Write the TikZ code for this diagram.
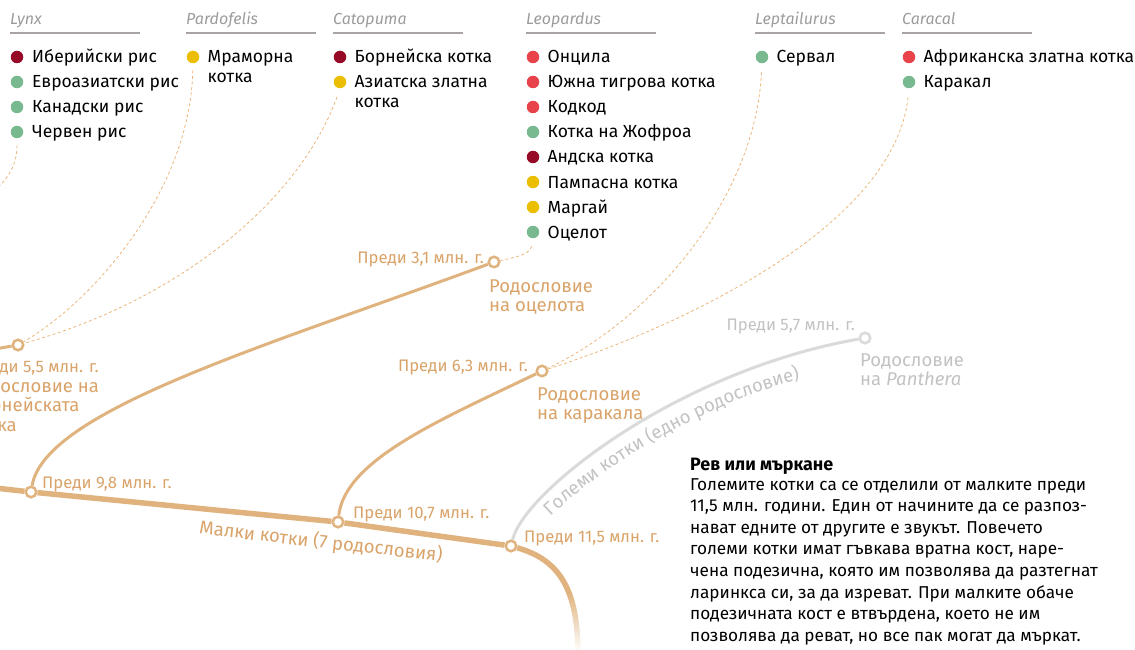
\documentclass[tikz,border=0pt]{standalone}
\usepackage{fontspec}
\setmainfont{Fira Sans}[Script=Cyrillic, Language=Bulgarian]
\usepackage{tikz}
\usetikzlibrary{calc,positioning,fadings,decorations.text}
\definecolor{CatDarkRed}{HTML}{960A28}
\definecolor{CatGreen}{HTML}{78B98F}
\definecolor{CatRed}{HTML}{E8434B}
\definecolor{CatYellow}{HTML}{EBBF00}
\definecolor{HeadGray}{HTML}{9C9C9C}
\definecolor{RuleGray}{HTML}{A9A3A3}
\definecolor{Trunk}{HTML}{E0B37E}
\definecolor{Label}{HTML}{D9A369}
\definecolor{Dash}{HTML}{EBB67C}
\definecolor{PanLine}{HTML}{DADADA}
\definecolor{PanText}{HTML}{C2C2C2}
\tikzstyle{spot}=[circle, fill, inner sep=0pt, minimum size=12.5pt]
\tikzstyle{species}=[inner sep=0pt, anchor=base west, align=left,
  font=\fontsize{17.5}{20}\selectfont]
\tikzstyle{genus}=[inner sep=0pt, anchor=base west, text=HeadGray,
  font=\fontsize{16}{18}\selectfont\itshape]
\tikzstyle{rule}=[RuleGray, line width=1.5pt]
\tikzstyle{fork}=[circle, draw=Trunk, fill=white, line width=2.5pt,
  inner sep=0pt, minimum size=10.5pt]
\tikzstyle{ago}=[inner sep=0pt, text=Label, font=\fontsize{16.7}{18}\selectfont]
\tikzstyle{lineage}=[inner sep=0pt, text=Label, align=left,
  font=\fontsize{18.5}{19.5}\selectfont]
\tikzstyle{link}=[Dash, line width=0.8pt, dash pattern=on 3pt off 2.5pt]
\tikzstyle{branch}=[Trunk, line width=3pt]
\tikzstyle{trunkline}=[Trunk, line width=5.5pt]

\begin{document}
\begin{tikzpicture}[x=1pt, y=-1pt]
  \useasboundingbox (0,0) rectangle (1135,650);
  \clip (0,0) rectangle (1135,650);
  % Lynx
  \node[genus] (lynx) at (10,25) {Lynx};
  \draw[rule] ($(lynx.base west)+(0,8)$) -- +(130,0);
  \node[spot, CatDarkRed] (lx1) at (17,57) {};
  \node[spot, CatGreen] (lx2) at (17,82) {};
  \node[spot, CatGreen] (lx3) at (17,107) {};
  \node[spot, CatGreen] (lx4) at (17,132) {};
  \node[species] (lx1t) at ($(lx1)+(15,6)$) {Иберийски рис};
  \node[species] (lx2t) at ($(lx2)+(15,6)$) {Евроазиатски рис};
  \node[species] (lx3t) at ($(lx3)+(15,6)$) {Канадски рис};
  \node[species] (lx4t) at ($(lx4)+(15,6)$) {Червен рис};
  % Pardofelis
  \node[genus] (pardo) at (186,25) {Pardofelis};
  \draw[rule] ($(pardo.base west)+(0,8)$) -- +(130,0);
  \node[spot, CatYellow] (pd1) at (193,57) {};
  \node[species] (pd1t) at ($(pd1)+(14.5,26)$) {Мраморна\\котка};
  % Catopuma
  \node[genus] (cato) at (333,25) {Catopuma};
  \draw[rule] ($(cato.base west)+(0,8)$) -- +(130,0);
  \node[spot, CatDarkRed] (ct1) at (340,57) {};
  \node[spot, CatYellow] (ct2) at (340,82) {};
  \node[species] (ct1t) at ($(ct1)+(14.5,6)$) {Борнейска котка};
  \node[species] (ct2t) at ($(ct2)+(14.5,26)$) {Азиатска златна\\котка};
  % Leopardus
  \node[genus] (leo) at (526,25) {Leopardus};
  \draw[rule] ($(leo.base west)+(0,8)$) -- +(130,0);
  \node[spot, CatRed] (lp1) at (533,57) {};
  \node[spot, CatRed] (lp2) at (533,82) {};
  \node[spot, CatRed] (lp3) at (533,107) {};
  \node[spot, CatGreen] (lp4) at (533,132) {};
  \node[spot, CatDarkRed] (lp5) at (533,157) {};
  \node[spot, CatYellow] (lp6) at (533,182) {};
  \node[spot, CatYellow] (lp7) at (533,207) {};
  \node[spot, CatGreen] (lp8) at (533,232) {};
  \node[species] (lp1t) at ($(lp1)+(14.5,6)$) {Онцила};
  \node[species] (lp2t) at ($(lp2)+(14.5,6)$) {Южна тигрова котка};
  \node[species] (lp3t) at ($(lp3)+(14.5,6)$) {Кодкод};
  \node[species] (lp4t) at ($(lp4)+(14.5,6)$) {Котка на Жофроа};
  \node[species] (lp5t) at ($(lp5)+(14.5,6)$) {Андска котка};
  \node[species] (lp6t) at ($(lp6)+(14.5,6)$) {Пампасна котка};
  \node[species] (lp7t) at ($(lp7)+(14.5,6)$) {Маргай};
  \node[species] (lp8t) at ($(lp8)+(14.5,6)$) {Оцелот};
  % Leptailurus
  \node[genus] (lept) at (755,25) {Leptailurus};
  \draw[rule] ($(lept.base west)+(0,8)$) -- +(130,0);
  \node[spot, CatGreen] (lt1) at (762,57) {};
  \node[species] (lt1t) at ($(lt1)+(14.5,6)$) {Сервал};
  % Caracal
  \node[genus] (cara) at (902,25) {Caracal};
  \draw[rule] ($(cara.base west)+(0,8)$) -- +(130,0);
  \node[spot, CatRed] (cc1) at (909,57) {};
  \node[spot, CatGreen] (cc2) at (909,82) {};
  \node[species] (cc1t) at ($(cc1)+(14.5,6)$) {Африканска златна котка};
  \node[species] (cc2t) at ($(cc2)+(14.5,6)$) {Каракал};
  % forks
  \node[fork] (n55) at (18,345) {};
  \node[fork] (n31) at (494,262) {};
  \node[fork] (n63) at (542,371) {};
  \node[fork, draw=PanLine] (n57) at (865,338) {};
  \node[fork] (n98) at (31,492) {};
  \node[fork] (n107) at (338,522) {};
  \node[fork] (n115) at (511,546) {};
  \coordinate (west98) at (-5,488);
  \coordinate (west55) at (-5,349);
  \coordinate (lynxend) at (-15,198);
  \coordinate (south) at (578,655);
  % trunk and branches
  \draw[trunkline] (west98) -- (n98);
  \draw[trunkline] (n98) -- (n107);
  \draw[trunkline] (n107) -- (n115);
  \draw[trunkline] (n115) .. controls (560,560) and (578,590) .. (south);
  \fill[white, path fading=north] (550,592) rectangle (605,652);
  \draw[branch] (west55) -- (n55);
  \draw[branch] (n98) .. controls (45,410) and (270,345) .. (n31);
  \draw[branch] (n107) .. controls (345,460) and (440,420) .. (n63);
  \draw[branch, PanLine] (n115) .. controls (525,490) and (680,370) .. (n57);
  % dashed links
  \draw[link, shorten <=7pt] (lx4.south) .. controls (17,165) and (8,182) .. (lynxend);
  \draw[link, shorten <=7pt] (pd1.south) .. controls (190,190) and (95,300) .. (n55);
  \draw[link, shorten <=9pt] (ct2.south) .. controls (300,200) and (180,300) .. (n55);
  \draw[link, shorten <=8pt] (lp8.south) .. controls (530,255) and (512,258) .. (n31);
  \draw[link, shorten <=9pt] (lt1.south) .. controls (755,200) and (650,320) .. (n63);
  \draw[link, shorten <=9pt] (cc2.south) .. controls (895,220) and (700,320) .. (n63);
  % labels
  \node[ago, anchor=base west] (t55) at ($(n55)+(-49,27)$) {Преди 5,5 млн. г.};
  \node[lineage, anchor=base west] (l55) at ($(n55)+(-49,86)$) {Родословие на\\Борнейската\\котка};
  \node[ago, anchor=base east] (t31) at ($(n31)+(-10,1)$) {Преди 3,1 млн. г.};
  \node[lineage, anchor=base west] (l31) at ($(n31)+(-5,49.5)$) {Родословие\\на оцелота};
  \node[ago, anchor=base east] (t63) at ($(n63)+(-14,0)$) {Преди 6,3 млн. г.};
  \node[lineage, anchor=base west] (l63) at ($(n63)+(-5,48.5)$) {Родословие\\на каракала};
  \node[ago, anchor=base east, text=PanText] (t57) at ($(n57)+(-10,-8)$) {Преди 5,7 млн. г.};
  \node[lineage, anchor=base west, text=PanText] (l57) at ($(n57)+(-5,47.5)$) {Родословие\\на \textit{Panthera}};
  \node[ago, anchor=base west] (t98) at ($(n98)+(11,-4)$) {Преди 9,8 млн. г.};
  \node[ago, anchor=base west] (t107) at ($(n107)+(15,-4)$) {Преди 10,7 млн. г.};
  \node[ago, anchor=base west] (t115) at ($(n115)+(13,-4)$) {Преди 11,5 млн. г.};
  \node[lineage, rotate=-6.5] (small) at (321,542) {Малки котки (7 родословия)};
  \path[decorate, decoration={text along path, text align=center,
    text={|\fontsize{18.5}{20}\selectfont\color{PanText}|Големи котки (едно родословие)}}]
    (535,533) .. controls (580,480) and (700,400) .. (822,374);
  % roar or purr
  \node[inner sep=0pt, anchor=base west, font=\fontsize{17.9}{20}\selectfont\bfseries]
    (roarhead) at (690,470) {Рев или мъркане};
  \node[inner sep=0pt, anchor=base west, align=left, font=\fontsize{17.2}{21.6}\selectfont]
    (roar) at (690,641.2) {Големите котки са се отделили от малките преди\\
    11,5 млн. години. Един от начините да се разпоз-\\
    нават едните от другите е звукът. Повечето\\
    големи котки имат гъвкава вратна кост, наре-\\
    чена подезична, която им позволява да разтегнат\\
    ларинкса си, за да изреват. При малките обаче\\
    подезичната кост е втвърдена, което не им\\
    позволява да реват, но все пак могат да мъркат.};
\end{tikzpicture}
\end{document}
